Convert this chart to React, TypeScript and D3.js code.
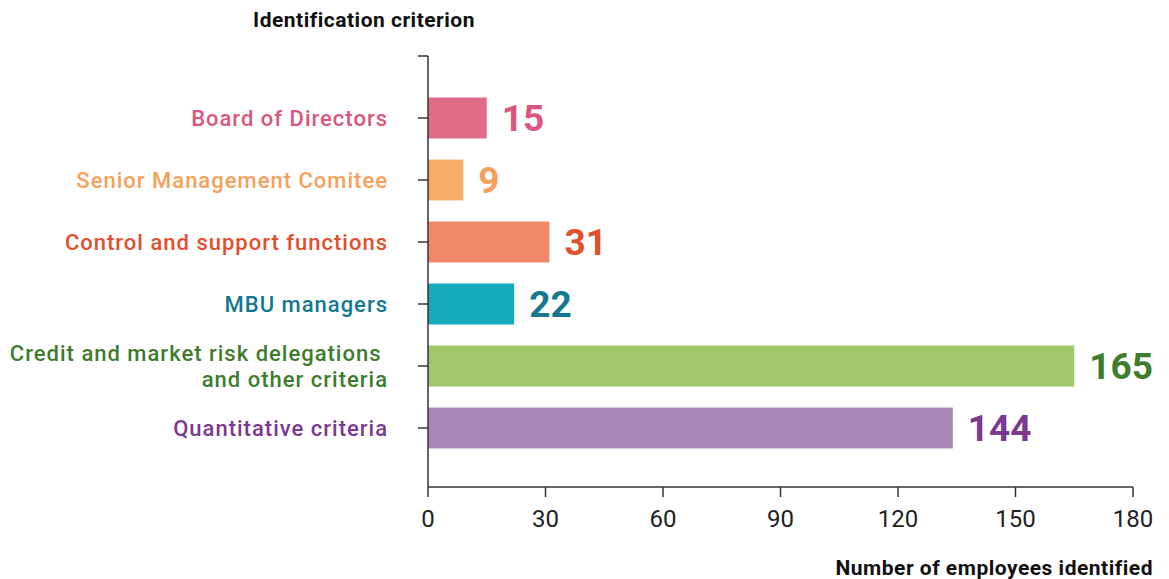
import React from "react";
import * as d3 from "d3";

const categories = [
  ["Board of Directors"],
  ["Senior Management Comitee"],
  ["Control and support functions"],
  ["MBU managers"],
  ["Credit and market risk delegations ", "and other criteria"],
  ["Quantitative criteria"],
];
const barValues = [15, 9, 31, 22, 165, 134];
const valueLabels = ["15", "9", "31", "22", "165", "144"];
const barColors = ["#e06b85", "#f6ac64", "#f0876a", "#16a9b7", "#9ec86a", "#aa87b8"];
const textColors = ["#d9577b", "#f5a05b", "#e0502d", "#14788f", "#3f7c2e", "#7b3990"];
const xTicks = [0, 30, 60, 90, 120, 150, 180];

export default function App() {
  const W = 1169, H = 579;
  const x = d3.scaleLinear().domain([0, 180]).range([428, 1133]);
  const y = d3.scaleBand<number>().domain(d3.range(categories.length)).range([87, 459]).paddingInner(0.34).paddingOuter(0.17);
  const axisTop = 56, axisBottom = 487;
  const font = "Roboto, 'Noto Sans', sans-serif";
  return (
    <svg width={W} height={H} style={{ position: "absolute", left: 0, top: 0 }} fontFamily={font}>
      <rect width={W} height={H} fill="#fff" />
      <text x={364} y={27} textAnchor="middle" fontSize={21} fontWeight={700} letterSpacing={0.5} fill="#111">Identification criterion</text>
      {categories.map((lines, i) => {
        const cy = y(i)! + y.bandwidth() / 2;
        return (
          <g key={i}>
            <rect x={x(0)} y={y(i)} width={x(barValues[i]) - x(0)} height={y.bandwidth()} fill={barColors[i]} />
            <line x1={418} x2={428} y1={cy} y2={cy} stroke="#333" strokeWidth={1.5} />
            {lines.map((l, j) => (
              <text key={j} x={388} y={cy + (j - (lines.length - 1) / 2) * 26} dy="0.35em" textAnchor="end" fontSize={22} fontWeight={500} letterSpacing={1.0} fill={textColors[i]} style={{ whiteSpace: "pre" }}>{l}</text>
            ))}
            <text x={x(barValues[i]) + 15} y={cy} dy="0.36em" fontSize={37} fontWeight={700} fill={textColors[i]}>{valueLabels[i]}</text>
          </g>
        );
      })}
      <line x1={428} x2={428} y1={axisTop} y2={axisBottom} stroke="#333" strokeWidth={1.5} />
      <line x1={418} x2={428} y1={axisTop} y2={axisTop} stroke="#333" strokeWidth={1.5} />
      <line x1={428} x2={1133} y1={axisBottom} y2={axisBottom} stroke="#333" strokeWidth={1.5} />
      {xTicks.map((t) => (
        <g key={t}>
          <line x1={x(t)} x2={x(t)} y1={axisBottom} y2={axisBottom + 10} stroke="#333" strokeWidth={1.5} />
          <text x={x(t)} y={527} textAnchor="middle" fontSize={24} fill="#222">{t}</text>
        </g>
      ))}
      <text x={1153} y={575} textAnchor="end" fontSize={21} fontWeight={700} letterSpacing={0.5} fill="#111">Number of employees identified</text>
    </svg>
  );
}
